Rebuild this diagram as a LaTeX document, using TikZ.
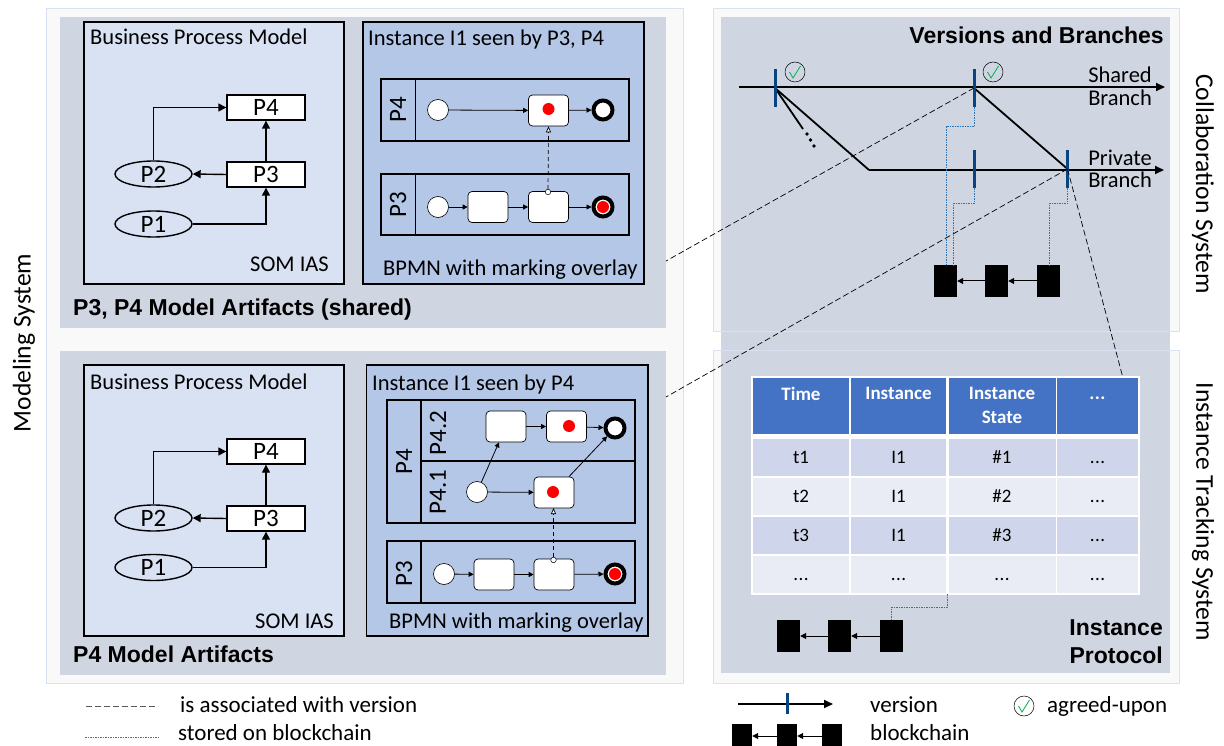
\documentclass[tikz,border=0pt]{standalone}
\usepackage{fontspec}
\setmainfont{Carlito}
\newfontfamily\headfont{Liberation Sans}
\usetikzlibrary{arrows.meta,shapes.geometric}
\newcommand{\moredots}{.\kern.4pt.\kern.4pt.}
\definecolor{framec}{HTML}{D9E2F3}
\definecolor{framefill}{HTML}{F9F9F9}
\definecolor{panelc}{HTML}{D0D6E1}
\definecolor{modelc}{HTML}{D9E2F3}
\definecolor{instc}{HTML}{B4C7E7}
\definecolor{tickc}{HTML}{0A4480}
\definecolor{dotc}{HTML}{2E75B6}
\definecolor{headc}{HTML}{4472C4}
\definecolor{rowa}{HTML}{CFD5EA}
\definecolor{rowb}{HTML}{E9EBF5}
\definecolor{checkc}{HTML}{00B050}
\tikzset{
  txt/.style={inner sep=0pt,font=\fontsize{22.5}{26}\selectfont},
  legendtxt/.style={inner sep=0pt,font=\fontsize{23}{26}\selectfont},
  bold/.style={inner sep=0pt,font=\fontsize{23}{27}\headfont\bfseries},
  sidetxt/.style={inner sep=0pt,font=\fontsize{25.6}{30}\selectfont},
  activity/.style={draw,fill=white,line width=1.4pt,minimum width=78pt,minimum height=25pt,inner sep=0pt,font=\fontsize{25}{28}\selectfont},
  role/.style={draw,ellipse,line width=1.4pt,minimum width=77pt,minimum height=26pt,inner sep=0pt,font=\fontsize{25}{28}\selectfont},
  link/.style={line width=1.4pt,-{Triangle[length=8pt,width=8pt]}},
  flow/.style={line width=.8pt,-{Triangle[length=5pt,width=5pt]}},
  lane/.style={draw,line width=1.4pt},
  lanetxt/.style={rotate=90,inner sep=0pt,font=\fontsize{25}{28}\selectfont},
  startev/.style={draw,fill=white,circle,line width=.6pt,minimum size=21pt,inner sep=0pt},
  endev/.style={draw,fill=white,circle,line width=4pt,minimum size=19pt,inner sep=0pt},
  task/.style={draw,fill=white,rounded corners=4pt,line width=.7pt,minimum width=40pt,minimum height=31pt,inner sep=0pt},
  token/.style={fill=red,circle,minimum size=12pt,inner sep=0pt},
  hook/.style={draw,fill=white,circle,line width=.5pt,minimum size=5.5pt,inner sep=0pt},
  sync/.style={dash pattern=on 4pt off 3pt,line width=.7pt,-{Triangle[open,fill=white,length=6pt,width=5pt]}},
  assoc/.style={dash pattern=on 6pt off 3pt,line width=.7pt},
  chainline/.style={dash pattern=on 1.5pt off 1pt,dotc,line width=1pt},
  branch/.style={line width=1.8pt},
  vtick/.style={fill=tickc,minimum width=3pt,minimum height=38pt,inner sep=0pt},
  block/.style={fill=black,minimum width=23pt,minimum height=32pt,inner sep=0pt},
  miniblock/.style={fill=black,minimum width=20pt,minimum height=24pt,inner sep=0pt},
  blink/.style={line width=1pt,-{Triangle[length=6pt,width=6pt]}},
  agreed/.style={draw,circle,line width=.5pt,minimum size=20pt,inner sep=0pt},
  cell/.style={fill=#1,inner sep=0pt,minimum height=37pt,text height=13pt,text depth=0pt,font=\fontsize{19}{22}\selectfont},
  headcell/.style={fill=headc,text=white,inner sep=0pt,minimum height=56pt,align=center,font=\fontsize{19}{24}\selectfont\bfseries},
}
\begin{document}
\begin{tikzpicture}[x=1pt,y=-1pt]
\useasboundingbox (0,0) rectangle (1224,746);
\clip (0,0) rectangle (1224,746);
% frames and panels
\draw[framec,fill=framefill] (46,8) rectangle (683,683);
\draw[framec,fill=framefill] (713,8) rectangle (1179,331);
\draw[framec,fill=framefill] (713,350) rectangle (1179,683);
\fill[panelc] (60,17) rectangle (666,328);
\fill[panelc] (60,351) rectangle (666,675);
\fill[panelc] (721,17) rectangle (1170,673);
\draw[framec] (713,331) -- (1179,331);
\draw[framec] (713,350) -- (1179,350);
\node[sidetxt,rotate=90] (modsys) at (24,343) {Modeling System};
\node[sidetxt,rotate=-90] (colsys) at (1203,184) {Collaboration System};
\node[sidetxt,rotate=-90] (itsys) at (1203,512) {Instance Tracking System};
% shared model artifacts
\draw[fill=modelc,line width=1.2pt] (84,22) rectangle (344,284);
\draw[fill=instc,line width=1.2pt] (363,22) rectangle (644,284);
\node[txt,anchor=base west] (bpma) at (90,45) {Business Process Model};
\node[txt,anchor=base east] (soma) at (329,272) {SOM IAS};
\node[txt,anchor=base west] (insta) at (368,46) {Instance I1 seen by P3, P4};
\node[txt,anchor=base west] (bpmna) at (383,276) {BPMN with marking overlay};
\node[bold,anchor=base west] (titlea) at (73,315) {P3, P4 Model Artifacts (shared)};
\node[activity] (a4) at (266,107.5) {P4};
\node[activity] (a3) at (266,174.5) {P3};
\node[role] (a2) at (153.5,174) {P2};
\node[role] (a1) at (153.5,224) {P1};
\draw[link] (a2.north) |- (a4.west);
\draw[link] (a3.north) -- (a4.south);
\draw[link] (a3.west) -- (a2.east);
\draw[link] (a1.east) -| (a3.south);
\draw[lane] (381,79) rectangle (629,141);
\draw[lane] (415.5,79) -- (415.5,141);
\draw[lane] (381,174) rectangle (629,235);
\draw[lane] (415.5,174) -- (415.5,235);
\node[lanetxt] (la4) at (398,110) {P4};
\node[lanetxt] (la3) at (398,205) {P3};
\node[startev] (sa4) at (438,110) {};
\node[task] (ta4) at (548.5,110.5) {};
\node[token] (ma4) at (548.5,109) {};
\node[endev] (ea4) at (603,110) {};
\draw[flow] (sa4) -- (ta4);
\draw[flow] (ta4) -- (ea4);
\node[startev] (sa3) at (438,207) {};
\node[task] (ta31) at (488,207) {};
\node[task] (ta32) at (548.5,207) {};
\node[endev] (ea3) at (603,207) {};
\node[token] (da3) at (603,207) {};
\draw[flow] (sa3) -- (ta31);
\draw[flow] (ta31) -- (ta32);
\draw[flow] (ta32) -- (ea3);
\node[hook] (ha3) at (548,192) {};
\draw[sync] (ha3) -- (ta4.south);
% private model artifacts
\draw[fill=modelc,line width=1.2pt] (84,365) rectangle (344,636);
\draw[fill=instc,line width=1.2pt] (366.5,365) rectangle (648,636);
\node[txt,anchor=base west] (bpmb) at (90,389) {Business Process Model};
\node[txt,anchor=base east] (somb) at (334,628) {SOM IAS};
\node[txt,anchor=base west] (instb) at (372,390) {Instance I1 seen by P4};
\node[txt,anchor=base west] (bpmnb) at (389,628) {BPMN with marking overlay};
\node[bold,anchor=base west] (titleb) at (73,662) {P4 Model Artifacts};
\node[activity] (b4) at (266,451.5) {P4};
\node[activity] (b3) at (266,518.5) {P3};
\node[role] (b2) at (153.5,518) {P2};
\node[role] (b1) at (153.5,567.5) {P1};
\draw[link] (b2.north) |- (b4.west);
\draw[link] (b3.north) -- (b4.south);
\draw[link] (b3.west) -- (b2.east);
\draw[link] (b1.east) -| (b3.south);
\draw[lane] (387,400) rectangle (635,523);
\draw[lane] (421,400) -- (421,523);
\draw[lane] (421,461) -- (635,461);
\draw[lane] (387,541) rectangle (635,603);
\draw[lane] (421,541) -- (421,603);
\node[lanetxt] (lb4) at (404,462) {P4};
\node[lanetxt] (lb42) at (438,433) {P4.2};
\node[lanetxt] (lb41) at (438,492) {P4.1};
\node[lanetxt] (lb3) at (404,574) {P3};
\node[task] (tb21) at (506,426.5) {};
\node[task] (tb22) at (566.5,426.5) {};
\node[token] (mb22) at (569,426) {};
\node[endev] (eb2) at (615,428) {};
\node[startev] (sb1) at (477,492) {};
\node[task] (tb1) at (554,492.5) {};
\node[token] (mb1) at (553,492) {};
\draw[flow] (tb21) -- (tb22);
\draw[flow] (tb22) -- (eb2);
\draw[flow] (sb1) -- (tb21);
\draw[flow] (sb1) -- (tb1);
\draw[flow] (tb1) -- (eb2);
\node[startev] (sb3) at (444,574) {};
\node[task] (tb31) at (494,574.5) {};
\node[task] (tb32) at (554,574.5) {};
\node[endev] (eb3) at (615,574) {};
\node[token] (db3) at (615,574) {};
\draw[flow] (sb3) -- (tb31);
\draw[flow] (tb31) -- (tb32);
\draw[flow] (tb32) -- (eb3);
\node[hook] (hb3) at (553.5,560) {};
\draw[sync] (hb3) -- (553.5,508);
% versions and branches
\node[bold,anchor=base east] (vbtitle) at (1164,44) {Versions and Branches};
\coordinate (sstart) at (739,87);
\coordinate (send) at (1165,87);
\coordinate (pturn) at (869,170);
\coordinate (pend) at (1164,170);
\coordinate (more) at (803,129);
\node[vtick] (v1) at (775,88) {};
\node[vtick] (v2) at (974,88) {};
\node[vtick] (v3) at (974,169) {};
\node[vtick] (v4) at (1067.5,169) {};
\draw[branch,-{Triangle[length=9pt,width=8pt]}] (sstart) -- (send);
\draw[branch,-{Triangle[length=9pt,width=8pt]}] (pturn) -- (pend);
\draw[branch] (v1.center) -- (pturn);
\draw[branch] (v2.center) -- (v4.center);
\draw[branch] (v1.center) -- (more);
\fill (807,134) circle (1.8pt) (810.5,140) circle (1.8pt) (814,146) circle (1.8pt);
\node[vtick] at (775,88) {};
\node[vtick] at (974,88) {};
\node[vtick] at (974,169) {};
\node[vtick] at (1067.5,169) {};
\node[agreed] (c1) at (795,72) {};
\node[agreed] (c2) at (993,72) {};
\draw[checkc,line width=.8pt] (789.5,72) -- (793,78) -- (800.5,66);
\draw[checkc,line width=.8pt] (987.5,72) -- (991,78) -- (998.5,66);
\node[txt,anchor=base east,align=right,font=\fontsize{22.5}{23}\selectfont] (shared) at (1152,106) {Shared\\Branch};
\node[txt,anchor=base east,align=right,font=\fontsize{22.5}{22}\selectfont] (private) at (1152,188) {Private\\Branch};
\node[block] (ba) at (945.5,281) {};
\node[block] (bb) at (996.5,281) {};
\node[block] (bc) at (1048.5,281) {};
\draw[blink] (bb) -- (ba);
\draw[blink] (bc) -- (bb);
\coordinate (ja) at (946,265);
\coordinate (jb) at (953,265);
\coordinate (jc) at (1049,265);
\draw[chainline] (v2.south) -- (974,127) -| (ja);
\draw[chainline] (v3.south) -- (974,204) -| (jb);
\draw[chainline] (v4.south) -- (1067.5,204) -| (jc);
% associations
\coordinate (asa) at (666,261);
\coordinate (asb) at (666,397);
\coordinate (asc) at (1123,378);
\draw[assoc] (v2.center) -- (asa);
\draw[assoc] (v4.center) -- (asb);
\draw[assoc] (v4.center) -- (asc);
% instance protocol table
\fill[white] (751,376) rectangle (1140,595);
\node[headcell,minimum width=96pt] (h1) at (801,405.5) {Time\\~};
\node[headcell,minimum width=95pt] (h2) at (898.5,405.5) {Instance\\~};
\node[headcell,minimum width=107pt] (h3) at (1002,405.5) {Instance\\State};
\node[headcell,minimum width=81pt] (h4) at (1097.5,405.5) {\vphantom{T}\moredots\\~};
\foreach \r/\y/\col/\ta/\tb/\tc in {1/457/rowa/t1/I1/{\#1},2/496/rowb/t2/I1/{\#2},3/535/rowa/t3/I1/{\#3},4/574/rowb/\moredots/\moredots/\moredots}{
  \node[cell=\col,minimum width=96pt] (r\r a) at (801,\y) {\ta};
  \node[cell=\col,minimum width=95pt] (r\r b) at (898.5,\y) {\tb};
  \node[cell=\col,minimum width=107pt] (r\r c) at (1002,\y) {\tc};
  \node[cell=\col,minimum width=81pt] (r\r d) at (1097.5,\y) {\moredots};
}
\coordinate (tabfoot) at (947,594);
\node[block] (ia) at (788.5,636) {};
\node[block] (ib) at (839.5,636) {};
\node[block] (ic) at (891.5,636) {};
\draw[blink] (ib) -- (ia);
\draw[blink] (ic) -- (ib);
\draw[chainline] (tabfoot) -- (947,607) -| (ic.north);
\node[bold,anchor=base east,align=center,font=\fontsize{23}{27.5}\headfont\bfseries] (ptitle) at (1163,663) {Instance\\Protocol};
% legend
\coordinate (lga) at (86,706);
\coordinate (lgb) at (158,706);
\coordinate (lgc) at (85,737);
\coordinate (lgd) at (158,737);
\draw[assoc,gray!70!black] (lga) -- (lgb);
\draw[chainline] (lgc) -- (lgd);
\node[legendtxt,anchor=base west] (lgta) at (180,712) {is associated with version};
\node[legendtxt,anchor=base west] (lgtb) at (178,740) {stored on blockchain};
\coordinate (lge) at (738,704);
\coordinate (lgf) at (833,704);
\draw[branch,-{Triangle[length=9pt,width=8pt]}] (lge) -- (lgf);
\node[fill=tickc,minimum width=3pt,minimum height=21pt,inner sep=0pt] (lgv) at (787,703.5) {};
\node[legendtxt,anchor=base west] (lgtc) at (870,712) {version};
\node[agreed] (lgk) at (1024,706) {};
\draw[checkc,line width=.8pt] (1018.5,706) -- (1022,712) -- (1029.5,700);
\node[legendtxt,anchor=base west] (lgtd) at (1047,712) {agreed-upon};
\node[miniblock] (ma) at (742,736) {};
\node[miniblock] (mb) at (787,736) {};
\node[miniblock] (mc) at (832,736) {};
\draw[blink] (mb) -- (ma);
\draw[blink] (mc) -- (mb);
\node[legendtxt,anchor=base west] (lgte) at (870,740) {blockchain};
\end{tikzpicture}
\end{document}
